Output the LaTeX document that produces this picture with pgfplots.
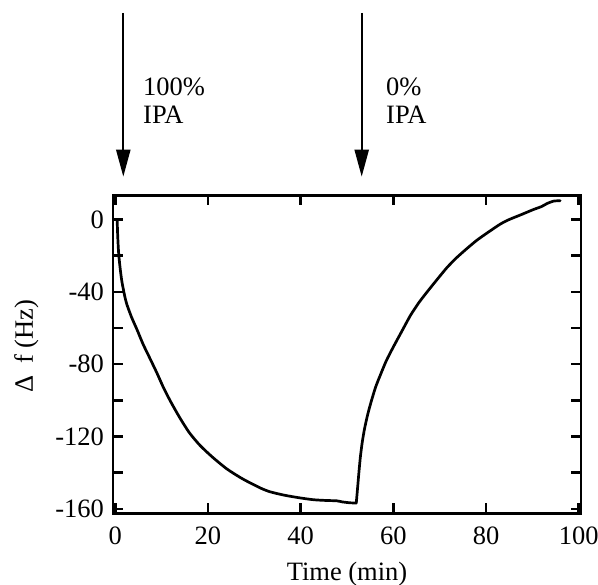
\documentclass[border=0pt]{standalone}
\usepackage{fontspec}
\setmainfont{Liberation Serif}
\usepackage{pgfplots}
\pgfplotsset{compat=1.18}
\usetikzlibrary{arrows.meta}

\pgfplotstableread{
t f
0.4 0
0.5 -8
0.7 -18
1.0 -26
1.4 -34
2.0 -42
2.5 -47
3.5 -54
4.7 -61
6.0 -69
7.6 -77.5
9.0 -85
10.4 -93
12.0 -101
14.0 -110
16.0 -118
18.3 -125
21.0 -131.5
24.1 -138
27.5 -143.5
31.3 -148.5
33.4 -150.6
36.5 -152.5
39.9 -154
42.8 -155
45.5 -155.4
47.8 -155.6
49.0 -156.2
50.7 -156.7
52.0 -156.8
}\decaytable

\pgfplotstableread{
t f
52.0 -156.8
52.2 -151
52.4 -145
52.6 -139
52.9 -131
53.3 -123
53.8 -115.5
54.5 -107.5
55.3 -100
56.2 -92.5
57.2 -86
58.5 -78
60.1 -70
62.0 -61
63.7 -53
65.5 -46
67.3 -40
69.5 -33
71.6 -26.5
73.7 -21
75.9 -16
78.0 -11.5
80.2 -7.5
83.1 -2.5
85.0 0
87.4 2.5
90.3 5.6
92.0 7.2
93.2 8.9
94.6 10.2
96.0 10.4
}\risetable

\begin{document}
\fontsize{26.5bp}{31bp}\selectfont
\begin{tikzpicture}
\path[use as bounding box] (0,0) rectangle (598bp,585bp);
\begin{axis}[
  at={(113bp,71.7bp)}, anchor=south west,
  width=468bp, height=317.8bp, scale only axis,
  xmin=-0.5, xmax=100.5, ymin=-162.5, ymax=13.3,
  axis line style={line width=2.8bp},
  xtick={0,20,40,60,80,100}, xticklabels={0,20,40,60,80,100},
  ytick={-160,-120,-80,-40,0}, yticklabels={-160,-120,-80,-40,0},
  minor ytick={-140,-100,-60,-20},
  tick align=inside,
  major tick length=10bp, minor tick length=10bp,
  every tick/.style={line width=2.5bp, black},
  tick label style={font=\fontsize{26.5bp}{31bp}\selectfont},
  xticklabel style={yshift=-5bp},
  xlabel={Time (min)},
  ylabel={Δ\hspace{0.45em}f (Hz)},
  label style={font=\fontsize{26.5bp}{31bp}\selectfont},
  xlabel style={at={(axis description cs:0.5,-0.21)}, anchor=base},
  ylabel style={at={(axis description cs:-0.171,0.526)}, anchor=base},
]
\addplot[black, line width=2.7bp, line join=round, line cap=round, mark=none, smooth, tension=0.4] table[x=t, y=f] {\decaytable};
\addplot[black, line width=2.7bp, line join=round, line cap=round, mark=none, smooth, tension=0.4] table[x=t, y=f] {\risetable};
\end{axis}
\draw[line width=2.3bp, -{Triangle[length=27bp,width=14bp]}] (123.3bp,572bp) -- (123.3bp,408.3bp);
\draw[line width=2.3bp, -{Triangle[length=27bp,width=14bp]}] (361.7bp,572bp) -- (361.7bp,408.3bp);
\node[anchor=base west, inner sep=0pt] at (143bp,489bp) {100\%};
\node[anchor=base west, inner sep=0pt] at (143bp,461bp) {IPA};
\node[anchor=base west, inner sep=0pt] at (386bp,489bp) {0\%};
\node[anchor=base west, inner sep=0pt] at (386bp,461bp) {IPA};
\end{tikzpicture}
\end{document}
